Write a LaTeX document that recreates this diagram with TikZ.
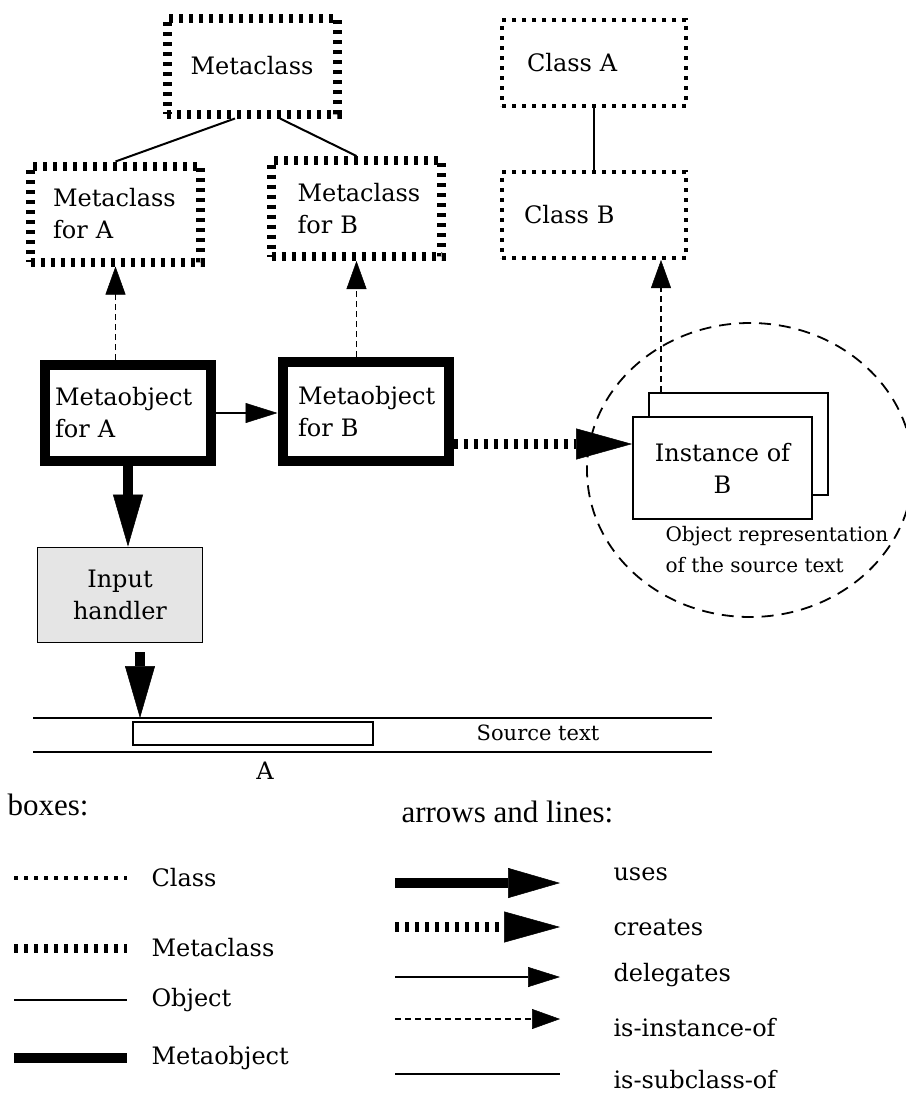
\documentclass[tikz,border=0pt]{standalone}
\usepackage{fontspec}
\setmainfont{DejaVu Serif}
\newfontfamily\timesfont{Liberation Serif}
\usepackage{tikz}
\usetikzlibrary{arrows.meta}

\newcommand{\boxfont}{\fontsize{24}{32}\selectfont}
\newcommand{\legfont}{\fontsize{24}{28}\selectfont}
\newcommand{\smallfont}{\fontsize{20}{31}\selectfont}
\newcommand{\hdrfont}{\timesfont\fontsize{31}{36}\selectfont}

\begin{document}
\begin{tikzpicture}[x=1pt, y=-1pt,
    every node/.style={font=\boxfont},
    classline/.style={line width=4pt, dash pattern=on 4pt off 6pt},
    metaclassline/.style={line width=9pt, dash pattern=on 4pt off 6pt},
    objline/.style={line width=1.8pt},
    metaobjline/.style={line width=10pt},
    classbox/.style={draw, classline, minimum width=184pt, minimum height=86pt, align=left},
    metaclassbox/.style={draw, metaclassline, minimum width=170pt, minimum height=96pt, align=left},
    objbox/.style={draw, objline, align=center},
    metaobjbox/.style={draw, metaobjline, minimum width=166pt, minimum height=96pt, align=left},
    usesarrow/.style={line width=10pt, -{Triangle[length=52pt, width=30pt, line width=0.5pt]}},
    createsarrow/.style={line width=10pt, dash pattern=on 4pt off 6pt, -{Triangle[length=56pt, width=31pt, line width=0.5pt]}},
    delegarrow/.style={line width=1.8pt, -{Triangle[length=32pt, width=20pt, line width=0.5pt]}},
    instarrow/.style={line width=1.8pt, dash pattern=on 6pt off 4pt, -{Triangle[length=28pt, width=20pt, line width=0.5pt]}},
    subline/.style={line width=2pt}
]
    \useasboundingbox (0,0) rectangle (905,1095);

    % Metaclasses
    \node[metaclassbox, align=center] (mc) at (252,66) {Metaclass};
    \node[metaclassbox, text width=125pt] (mcA) at (115.5,214) {Metaclass\\for A};
    \node[metaclassbox, text width=118pt] (mcB) at (356.5,208.5) {Metaclass\\for B};
    \draw[subline] ([xshift=-17]mc.south) -- (mcA.north);
    \draw[subline] ([xshift=28]mc.south) -- (mcB.north);

    % Classes
    \node[classbox, text width=134pt] (clA) at (594,63) {Class A};
    \node[classbox, text width=140pt] (clB) at (594,215) {Class B};
    \draw[subline] (clA.south) -- (clB.north);

    % Metaobjects
    \node[metaobjbox, text width=146pt] (moA) at (128,413) {Metaobject\\for A};
    \node[metaobjbox, minimum height=99pt, text width=135pt] (moB) at (365.5,411.5) {Metaobject\\for B};
    \draw[instarrow] (moA.north -| mcA.south) -- (mcA.south);
    \draw[instarrow] (moB.north -| mcB.south) -- (mcB.south);
    \draw[delegarrow] (moA.east) -- (moA.east -| moB.west);

    % Input handler
    \node[objbox, fill=black!10, minimum width=165pt, minimum height=95pt] (ih) at (120,595) {Input\\handler};
    \draw[usesarrow] (moA.south) -- (moA.south |- ih.north);

    % Object representation
    \draw[line width=1.8pt, dash pattern=on 12pt off 8pt] (750,470) ellipse [x radius=163, y radius=147];
    \node[objbox, minimum width=179pt, minimum height=102pt] (instback) at (738.5,444) {};
    \node[objbox, fill=white, minimum width=179pt, minimum height=102pt] (instfront) at (722.5,468) {Instance of\\B};
    \node[font=\smallfont, align=left, anchor=north west] (replbl) at (662,523) {Object representation\\of the source text};
    \path (instback.north) ++(-77.5,0) coordinate (instup);
    \draw[instarrow] (instup) -- (instup |- clB.south);
    \coordinate (crst) at ([yshift=-32.5]moB.east);
    \draw[createsarrow] (crst) -- (crst -| instfront.west);

    % Source text
    \draw[objline] (33,718) -- (712,718);
    \draw[objline] (33,752) -- (712,752);
    \node[objbox, minimum width=240pt, minimum height=23pt, inner sep=0pt] (srcA) at (253,733.5) {};
    \node[font=\fontsize{21}{24}\selectfont] (srclbl) at (538,733) {Source text};
    \node[font=\legfont] (srcAlbl) at (265,771) {A};
    \coordinate (readpt) at (140,718);
    \draw[usesarrow] (readpt |- ih.south) ++(0,9) -- (readpt);

    % Legend
    \node[font=\hdrfont, anchor=base west] (boxhdr) at (4,815) {boxes:};
    \node[font=\hdrfont, anchor=base west] (arrhdr) at (398,822) {arrows and lines:};
    \foreach \st/\lbl/\yy [count=\i] in {classline/Class/878, metaclassline/Metaclass/948, objline/Object/1000, metaobjline/Metaobject/1058} {
        \draw[\st] (14,\yy) -- (127,\yy);
        \node[font=\legfont, anchor=west] (boxkey\i) at (148,\yy) {\lbl};
    }
    \foreach \st/\lbl/\yy/\ly [count=\i] in {usesarrow/uses/883/874, createsarrow/creates/927/927, delegarrow/delegates/977/975, instarrow/is-instance-of/1019/1028, subline/is-subclass-of/1074/1080} {
        \draw[\st] (395,\yy) -- (560,\yy);
        \node[font=\legfont, anchor=west] (arrkey\i) at (610,\ly) {\lbl};
    }
\end{tikzpicture}
\end{document}
